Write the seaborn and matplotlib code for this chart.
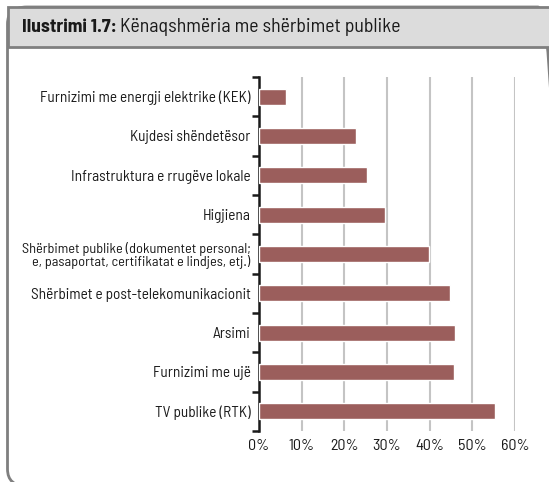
import matplotlib
matplotlib.use("Agg")
import matplotlib.pyplot as plt
from matplotlib.patches import FancyBboxPatch, Rectangle
from matplotlib.ticker import FixedLocator, PercentFormatter
import seaborn as sns
import pandas as pd

categories = [
    "Furnizimi me energji elektrike (KEK)",
    "Kujdesi shëndetësor",
    "Infrastruktura e rrugëve lokale",
    "Higjiena",
    "Shërbimet publike (dokumentet personal;\ne, pasaportat, certifikatat e lindjes, etj.)",
    "Shërbimet e post-telekomunikacionit",
    "Arsimi",
    "Furnizimi me ujë",
    "TV publike (RTK)",
]
values = [6.4, 22.7, 25.4, 29.6, 39.8, 44.8, 46.0, 45.6, 55.3]
xticks = [0, 10, 20, 30, 40, 50, 60]

sns.set_style("white")
plt.rcParams["font.family"] = ["Barlow Semi Condensed", "DejaVu Sans"]

W, H = 549, 482
fig = plt.figure(figsize=(W / 100, H / 100), dpi=100)

def fx(px):
    return px / W

def fy(py):
    return 1 - py / H

# outer rounded frame (right edge sits outside the picture)
frame = FancyBboxPatch((fx(7.5), fy(486)), fx(557) - fx(7.5), fy(7) - fy(486),
                       boxstyle="round,pad=0,rounding_size=0.035",
                       transform=fig.transFigure, facecolor="none",
                       edgecolor="#7f7f7f", linewidth=2, zorder=0)
fig.patches.append(frame)
# title band
band = Rectangle((fx(7.5), fy(47)), fx(560) - fx(7.5), fy(7) - fy(47),
                 transform=fig.transFigure, facecolor="#dcdcdc",
                 edgecolor="#7f7f7f", linewidth=2, zorder=1)
fig.patches.append(band)

t1 = fig.text(fx(22), fy(27), "Ilustrimi 1.7:", fontsize=14, fontweight="bold",
              color="#1a1a1a", va="center", ha="left")
fig.canvas.draw()
bb = t1.get_window_extent()
fig.text(bb.x1 / W + 0.006, fy(27), "Kënaqshmëria me shërbimet publike", fontsize=14.3,
         color="#1a1a1a", va="center", ha="left")

ax = fig.add_axes([fx(259), fy(431), fx(515) - fx(259), fy(77) - fy(431)])
df = pd.DataFrame({"cat": categories, "val": values})
sns.barplot(data=df, x="val", y="cat", orient="h", color="#9b5e5c", width=0.4,
            saturation=1, ax=ax, zorder=3)

ax.set_xlim(0, 60)
ax.set_ylim(len(categories) - 0.5, -0.5)
ax.set_xticks(xticks)
ax.xaxis.set_major_formatter(PercentFormatter(decimals=0))
ax.grid(axis="x", color="#c4c4c4", linewidth=1.5, zorder=0)
ax.set_axisbelow(True)
ax.set_xlabel("")
ax.set_ylabel("")
for s in ["top", "right", "bottom"]:
    ax.spines[s].set_visible(False)
ax.spines["left"].set_color("#1a1a1a")
ax.spines["left"].set_linewidth(1.8)
ax.tick_params(axis="x", length=0, labelsize=11.5, colors="#1a1a1a", pad=6)
ax.tick_params(axis="y", which="major", length=0, labelsize=11, colors="#1a1a1a", pad=6)
ax.yaxis.set_minor_locator(FixedLocator([i - 0.5 for i in range(len(categories) + 1)]))
ax.tick_params(axis="y", which="minor", left=True, length=5, width=1.8, color="#1a1a1a")
for lab in ax.get_yticklabels():
    lab.set_linespacing(0.95)
    if "\n" in lab.get_text():
        lab.set_fontsize(10.3)

fig.savefig("out.png", dpi=100)
